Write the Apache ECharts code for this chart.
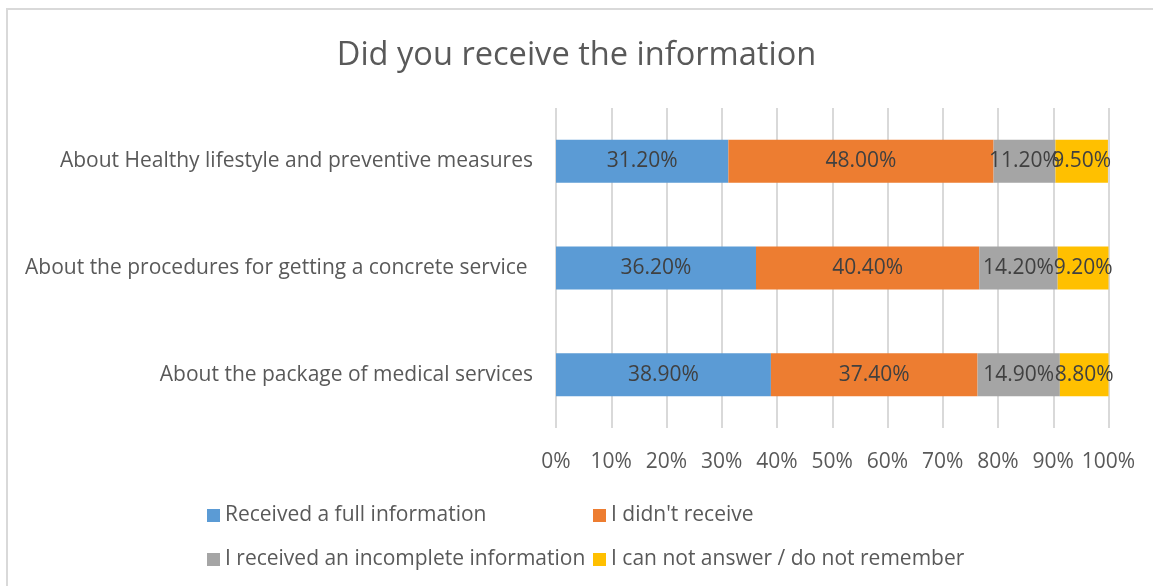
<!DOCTYPE html>
<html><head><meta charset="utf-8">
<script src="https://cdn.jsdelivr.net/npm/echarts@6/dist/echarts.min.js"></script>
<style>html,body{margin:0;padding:0;background:#fff}#c{width:1153px;height:586px;}</style>
</head><body><div id="c"></div>
<script>
const categories = ["About the package of medical services","About the procedures for getting a concrete service ","About Healthy lifestyle and preventive measures"];
const seriesNames = ["Received a full information","I didn't receive","I received an incomplete information","I can not answer / do not remember"];
const fullInfo = [38.9, 36.2, 31.2];
const notReceived = [37.4, 40.4, 48.0];
const incomplete = [14.9, 14.2, 11.2];
const cannotAnswer = [8.8, 9.2, 9.5];
const tickLabels = ["0%","10%","20%","30%","40%","50%","60%","70%","80%","90%","100%"];
const colors = ["#5B9BD5","#ED7D31","#A5A5A5","#FFC000"];
const values = [fullInfo, notReceived, incomplete, cannotAnswer];
const FONT = "Open Sans";
const chart = echarts.init(document.getElementById('c'));
const legendPos = [[207,505],[593,505],[207,549],[593,549]];
chart.setOption({
  animation:false,
  textStyle:{fontFamily:FONT},
  graphic:[{type:'rect',shape:{x:7,y:9,width:1200,height:700},style:{fill:'none',stroke:'#d9d9d9',lineWidth:2}}],
  title:{text:"Did you receive the information",left:'center',top:34,textStyle:{fontFamily:FONT,fontSize:32.6,fontWeight:'normal',color:'#595959'}},
  legend: seriesNames.map((n,i)=>({data:[n],left:legendPos[i][0],top:legendPos[i][1],padding:0,itemWidth:13,itemHeight:13,itemGap:0,icon:'rect',textStyle:{fontFamily:FONT,fontSize:21,color:'#595959'}})),
  grid:{left:556,right:44.5,top:108,height:320,containLabel:false},
  xAxis:{type:'value',min:0,max:100,interval:10,
    axisLabel:{formatter:v=>tickLabels[Math.round(v/10)],fontSize:21,color:'#595959',margin:24,fontFamily:FONT},
    axisLine:{show:false},axisTick:{show:false},
    splitLine:{lineStyle:{color:'#d9d9d9',width:2}}},
  yAxis:{type:'category',data:categories,
    axisLabel:{fontSize:21,color:'#595959',margin:23,fontFamily:FONT},
    axisLine:{show:false},axisTick:{show:false}},
  series: seriesNames.map((n,i)=>({name:n,type:'bar',stack:'s',barWidth:43,data:values[i],
    itemStyle:{color:colors[i]},
    label:{show:true,position:'inside',formatter:p=>p.value.toFixed(2)+'%',fontSize:21,color:'#404040',fontFamily:FONT}}))
});
</script></body></html>
